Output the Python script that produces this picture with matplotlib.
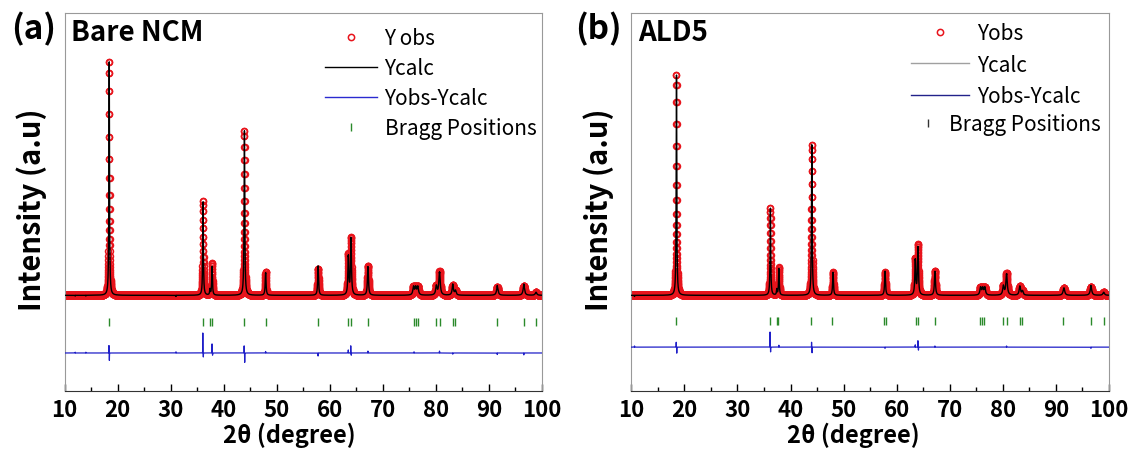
import numpy as np
import matplotlib
matplotlib.use("Agg")
import matplotlib.pyplot as plt
from matplotlib.lines import Line2D
from matplotlib.ticker import MultipleLocator

plt.rcParams['font.family'] = ['Noto Sans CJK KR', 'DejaVu Sans']

# ---- data (intensity in arbitrary units, 0-100 axis) ----
two_theta = np.linspace(10, 100, 9001)

# panel (a) Bare NCM
peak_pos_a = [18.405, 36.105, 37.405, 37.805, 43.905, 47.905, 57.805, 63.505, 64.005, 67.205,
              75.805, 76.205, 76.605, 80.105, 80.705, 83.205, 83.705, 91.605, 96.605, 98.905]
peak_h_a = [62.0, 25.0, 1.5, 8.4, 43.7, 6.2, 7.0, 10.5, 15.0, 7.8,
            2.2, 2.0, 2.2, 2.4, 6.2, 2.6, 1.2, 2.2, 2.5, 0.8]
bragg_a = [18.4, 36.1, 37.4, 37.8, 43.9, 47.9, 57.7, 63.5, 64.0, 67.2,
           75.8, 76.2, 76.6, 80.1, 80.7, 83.2, 83.7, 91.6, 96.6, 98.9]
diff_pos_a = [12.0, 14.0, 31.0, 18.36, 18.44, 36.06, 36.16, 37.80, 37.90,
              43.86, 43.96, 47.90, 57.80, 63.50, 63.96, 64.06, 67.20,
              75.90, 80.70, 83.20, 91.60, 96.60]
diff_amp_a = [0.2, 0.2, 0.3, 2.0, -2.0, 5.3, -1.1, 2.4, -0.6,
              1.9, -2.5, 0.4, -0.8, 0.8, 1.9, -0.6, 0.5,
              0.3, 0.5, -0.3, -0.4, -0.5]

# panel (b) ALD5
peak_pos_b = [18.505, 36.205, 37.405, 37.805, 44.005, 48.005, 57.805, 63.505, 64.005, 67.205,
              75.805, 76.205, 76.605, 80.105, 80.705, 83.205, 83.705, 91.505, 96.605, 99.005]
peak_h_b = [58.6, 23.1, 1.5, 7.3, 40.0, 6.1, 6.1, 9.5, 13.2, 6.5,
            2.0, 1.8, 2.0, 2.4, 5.7, 2.4, 1.1, 2.0, 2.3, 0.8]
bragg_b = [18.5, 36.2, 37.4, 37.7, 43.8, 47.9, 57.7, 58.0, 63.6, 64.0, 67.2,
           75.7, 76.1, 76.5, 80.1, 80.7, 83.3, 83.7, 91.4, 96.6, 99.0]
diff_pos_b = [10.60, 18.46, 18.56, 36.14, 36.24, 37.80, 43.96, 44.06,
              57.80, 63.50, 64.00, 64.10, 67.20, 80.70, 96.60]
diff_amp_b = [0.3, 1.3, -1.6, 4.0, -1.3, 0.5, 1.3, -1.5,
              -0.3, 0.6, 1.7, -0.8, 0.3, 0.3, -0.3]

peak_fwhm = [0.13, 0.14, 0.14, 0.15, 0.15, 0.18, 0.20, 0.20, 0.20, 0.22,
             0.30, 0.30, 0.30, 0.30, 0.30, 0.30, 0.30, 0.35, 0.35, 0.35]

background = 25.3
bragg_level = {'a': 18.3, 'b': 18.5}
diff_level = {'a': 10.05, 'b': 11.6}


def lorentz(x, x0, h, fwhm):
    hw = fwhm / 2.0
    return h / (1.0 + ((x - x0) / hw) ** 2)


def build_pattern(pos, heights, dpos, damp):
    yobs = np.full_like(two_theta, background)
    for x0, h, w in zip(pos, heights, peak_fwhm):
        yobs += lorentz(two_theta, x0, h, w)
    diff = np.zeros_like(two_theta)
    for x0, a in zip(dpos, damp):
        diff += lorentz(two_theta, x0, a, 0.02)
    ycalc = yobs - diff
    return yobs, ycalc, diff


fig = plt.figure(figsize=(11.3, 4.56), dpi=100)
ax_a = fig.add_axes([0.0572, 0.1404, 0.4223, 0.829])
ax_b = fig.add_axes([0.5587, 0.1404, 0.4227, 0.829])

panels = [
    (ax_a, 'a', 'Bare NCM', peak_pos_a, peak_h_a, bragg_a, diff_pos_a, diff_amp_a),
    (ax_b, 'b', 'ALD5', peak_pos_b, peak_h_b, bragg_b, diff_pos_b, diff_amp_b),
]

for ax, key, name, pos, heights, bragg, dpos, damp in panels:
    yobs, ycalc, diff = build_pattern(pos, heights, dpos, damp)

    ax.plot(two_theta, yobs, 'o', ms=4.3, mfc='none', mec='#e8141c', mew=1.1, zorder=2)
    ax.plot(two_theta, ycalc, '-', color='black', lw=1.0, zorder=3)
    ax.plot(two_theta, diff + diff_level[key], '-', color='#1f1fc8', lw=0.9, zorder=3)
    ax.plot(bragg, [bragg_level[key]] * len(bragg), '|', ms=6, mew=1.0,
            color='#2b8a2b', zorder=3)

    ax.set_xlim(10, 100)
    ax.set_ylim(0, 100)
    ax.set_yticks([])
    ax.xaxis.set_major_locator(MultipleLocator(10))
    ax.xaxis.set_minor_locator(MultipleLocator(5))
    ax.tick_params(axis='x', which='major', direction='in', length=5, width=1,
                   labelsize=16, pad=5, top=False)
    ax.tick_params(axis='x', which='minor', direction='in', length=3, width=1, top=False)
    for lab in ax.get_xticklabels():
        lab.set_fontweight('bold')

    for side in ['top', 'right', 'left']:
        ax.spines[side].set_color('#999999')
    ax.spines['bottom'].set_color('#333333')

    ax.set_xlabel('2θ (degree)', fontsize=17, fontweight='bold')
    ax.set_ylabel('Intensity (a.u)', fontsize=21, fontweight='bold')
    ax.yaxis.set_label_coords(-0.037, 0.481)

    ax.text(0.014, 0.929, name, transform=ax.transAxes, fontsize=20,
            fontweight='bold', ha='left', va='baseline')

ax_a.xaxis.set_label_coords(0.47, -0.08)
ax_b.xaxis.set_label_coords(0.464, -0.08)

fig.text(0.0095, 0.913, '(a)', fontsize=24, fontweight='bold', ha='left', va='baseline')
fig.text(0.509, 0.913, '(b)', fontsize=24, fontweight='bold', ha='left', va='baseline')

# legends
h_obs = Line2D([], [], ls='none', marker='o', ms=4.5, mfc='none', mec='#e8141c', mew=1.1)
h_calc = Line2D([], [], color='black', lw=1.0)
h_diff = Line2D([], [], color='#2a2ad0', lw=1.0)
h_bragg = Line2D([], [], ls='none', marker='|', ms=6, mew=1.0, color='#2b8a2b')
ax_a.legend([h_obs, h_calc, h_diff, h_bragg],
            ['Y obs', 'Ycalc', 'Yobs-Ycalc', 'Bragg Positions'],
            loc='upper left', bbox_to_anchor=(0.546, 0.962), frameon=False,
            fontsize=15, handlelength=2.5, handletextpad=0.35,
            labelspacing=0.38, borderpad=0, borderaxespad=0)

h_calc_b = Line2D([], [], color='#a0a0a0', lw=1.0)
h_diff_b = Line2D([], [], color='#22228a', lw=1.0)
h_bragg_b = Line2D([], [], ls='none', marker='|', ms=6, mew=1.0, color='#333333')
leg_b = ax_b.legend([h_obs, h_calc_b, h_diff_b],
                    ['Yobs', 'Ycalc', 'Yobs-Ycalc'],
                    loc='upper left', bbox_to_anchor=(0.5855, 0.975), frameon=False,
                    fontsize=15, handlelength=2.8, handletextpad=0.36,
                    labelspacing=0.45, borderpad=0, borderaxespad=0)
ax_b.add_artist(leg_b)
ax_b.legend([h_bragg_b], ['Bragg Positions'],
            loc='upper left', bbox_to_anchor=(0.6, 0.735), frameon=False,
            fontsize=15, handlelength=1.0, handletextpad=0.5,
            borderpad=0, borderaxespad=0)

plt.savefig('out.png', dpi=100)
